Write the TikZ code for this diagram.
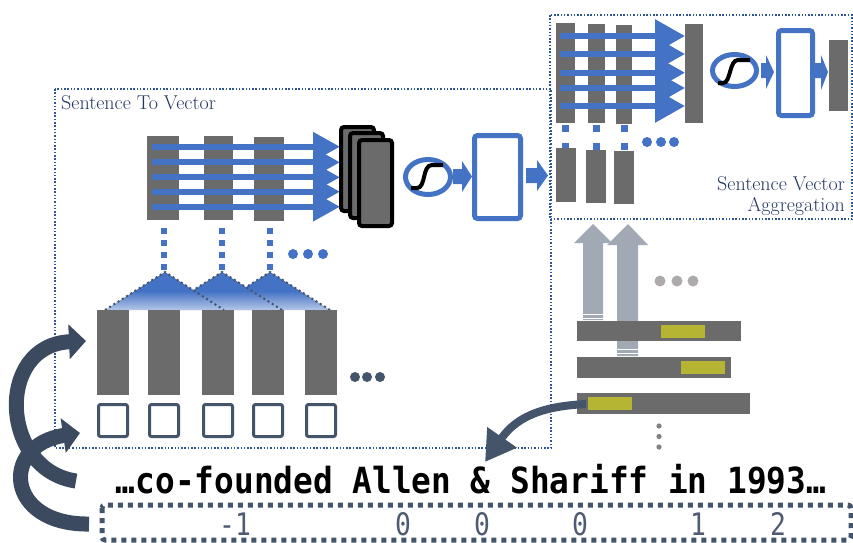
\documentclass[tikz,border=0pt]{standalone}
\usepackage{fontspec}
\newfontfamily\monofont{DejaVu Sans Mono}
\usetikzlibrary{arrows.meta}
\definecolor{cblue}{RGB}{68,114,196}
\definecolor{cgray}{RGB}{107,107,107}
\definecolor{cslate}{RGB}{68,84,106}
\definecolor{cslated}{RGB}{60,74,96}
\definecolor{clight}{RGB}{180,199,231}
\definecolor{carrow}{RGB}{161,169,181}
\definecolor{cdot}{RGB}{174,170,170}
\definecolor{colive}{RGB}{181,181,51}
\definecolor{clabel}{RGB}{36,54,96}
\definecolor{cbox}{RGB}{47,85,151}
\definecolor{cnum}{RGB}{78,91,114}
\tikzset{
  bar/.style={fill=cgray,draw=none},
  dotbox/.style={draw=cbox,line width=1.5pt,dash pattern=on 1.5pt off 1.8pt},
  hblue/.style={draw=cblue,line width=6pt,-{Triangle[length=27pt,width=28pt]}},
  hblueb/.style={draw=cblue,line width=6pt,-{Triangle[length=30pt,width=32pt]}},
  vdot/.style={draw=cblue,line width=6pt,dash pattern=on 6pt off 6pt},
  vdotb/.style={draw=cblue,line width=7pt,dash pattern=on 7pt off 11pt},
  blockarr/.style={fill=cblue,draw=none},
  bluebox/.style={draw=cblue,line width=5pt,rounded corners=3pt,fill=white},
  stackbox/.style={draw=black,line width=4pt,rounded corners=3pt,fill=cgray},
  sig/.style={draw=cblue,line width=5pt,fill=white},
  scurve/.style={draw=black,line width=4pt},
  tri/.style={top color=cblue,bottom color=clight,middle color=cblue},
  triedge/.style={draw=cslate,line width=2pt,dash pattern=on 2pt off 3pt},
  tok/.style={draw=cslate,line width=3pt,rounded corners=2pt,fill=white},
  curv/.style={draw=cslated,line width=15pt,-{Triangle[length=17pt,width=34pt]}},
  curvb/.style={draw=cslate,line width=8pt,-{Triangle[length=30pt,width=34pt]}},
  uparr/.style={fill=carrow,draw=none},
  lbl/.style={text=clabel,font=\fontsize{20}{24}\selectfont,inner sep=0pt},
  numlbl/.style={anchor=base,inner sep=0pt,text depth=0pt,text=cnum,font=\monofont\fontsize{31}{34}\selectfont},
}
\begin{document}
\begin{tikzpicture}[x=1pt,y=-1pt]
\useasboundingbox (0,0) rectangle (853,542);
\fill[white] (0,0) rectangle (853,542);

% ---------- Sentence To Vector box ----------
\draw[dotbox] (55,89) rectangle (551,448);
\node[lbl,anchor=base west] (stvlabel) at (61,109) {Sentence To Vector};

% top bars with arrows
\fill[bar] (147,136) rectangle (179,220);
\fill[bar] (204,136) rectangle (233,220);
\fill[bar] (254,137) rectangle (284,221);
\foreach \yy in {146.7,162.3,177.3,191.7,206.7}{
  \draw[hblue] (152,\yy) -- (340,\yy);
}
% stacked boxes
\draw[stackbox] (341,127) rectangle (374,211);
\draw[stackbox] (350,133) rectangle (383,218);
\draw[stackbox] (359,140) rectangle (392,226);
% sigmoid
\draw[sig] (428,177) ellipse [x radius=22.5, y radius=17.5];
\draw[scurve] (411,188) -- (417,188) .. controls (426,188) and (422,165) .. (432,165) -- (443,165);
% block arrow
\fill[blockarr] (453,169)--(462,169)--(462,161)--(472,176.5)--(462,192)--(462,184)--(453,184)--cycle;
\draw[bluebox] (474.5,135.5) rectangle (520.5,218.5);
\fill[blockarr] (526,168)--(537,168)--(537,160)--(548,175.5)--(537,191)--(537,183)--(526,183)--cycle;

% vertical dotted connectors
\foreach \xx in {164,222,270}{
  \draw[vdot] (\xx,228) -- (\xx,270);
}
\foreach \xx in {293,308,323}{ \fill[cblue] (\xx,254) circle (5); }

% triangles (pooling)
\shade[tri] (270,272) -- (330,310) -- (210,310) -- cycle;
\draw[triedge] (210,310) -- (270,272) -- (330,310);
\shade[tri] (222,272) -- (282,310) -- (162,310) -- cycle;
\draw[triedge] (162,310) -- (222,272) -- (282,310);
\shade[tri] (165,272) -- (224,310) -- (105,310) -- cycle;
\draw[triedge] (105,310) -- (165,272) -- (224,310);

% word bars and tokens
\foreach \xa/\xb in {97/129,148/180,202/234,252/284,305/337}{
  \fill[bar] (\xa,310) rectangle (\xb,395);
  \draw[tok] (\xa+1.5,404.5) rectangle (\xb-1.5,436.5);
}
\foreach \xx in {355,367,380}{ \fill[cslate] (\xx,377) circle (5); }

% ---------- Sentence Vector Aggregation box ----------
\draw[dotbox] (550,15) rectangle (852,219);
\node[lbl,anchor=base east] (svalabel1) at (845,190) {Sentence Vector};
\node[lbl,anchor=base east] (svalabel2) at (845,211) {Aggregation};

\fill[bar] (556,23) rectangle (575,123);
\fill[bar] (588,24) rectangle (605,123);
\fill[bar] (616,25) rectangle (632,124);
\fill[bar] (685,24) rectangle (703,123);
\foreach \yy in {36,54,72.7,88,106}{
  \draw[hblueb] (560,\yy) -- (685,\yy);
}
\foreach \xx in {565,596,624}{
  \draw[vdotb] (\xx,124.5) -- (\xx,149.5);
}
\fill[bar] (556,148) rectangle (576,202);
\fill[bar] (586,150) rectangle (606,203);
\fill[bar] (614,151) rectangle (634,204);
\foreach \xx in {647,661,674}{ \fill[cblue] (\xx,142) circle (5); }

\draw[sig] (734.5,70.5) ellipse [x radius=22, y radius=16];
\draw[scurve] (718,83) -- (723,83) .. controls (731,83) and (729,60) .. (738,60) -- (750,60);
\fill[blockarr] (761,63)--(766,63)--(766,55)--(774,72)--(766,89)--(766,78)--(761,78)--cycle;
\draw[bluebox] (778.5,30.5) rectangle (812.5,115.5);
\fill[blockarr] (815,63)--(821,63)--(821,55)--(828,72)--(821,90)--(821,78)--(815,78)--cycle;
\fill[bar] (829,40) rectangle (848,111);

% ---------- sentences with up arrows ----------
\fill[uparr] (583,320) -- (583,243) -- (574,243) -- (593,224) -- (612,243) -- (603,243) -- (603,320) -- cycle;
\draw[white,line width=1pt] (583,314.5) -- (603,314.5);
\draw[white,line width=1pt] (583,318) -- (603,318);
\fill[uparr] (617,356) -- (617,245) -- (607,245) -- (628,224) -- (648,245) -- (638,245) -- (638,356) -- cycle;
\draw[white,line width=1pt] (617,349.5) -- (638,349.5);
\draw[white,line width=1pt] (617,353) -- (638,353);
\foreach \xx in {660,677,693}{ \fill[cdot] (\xx,281) circle (5.5); }

\fill[bar] (577,321) rectangle (741,341);
\fill[colive] (661,325) rectangle (705,338);
\fill[bar] (577,357) rectangle (731,378);
\fill[colive] (681,361) rectangle (725,374);
\fill[bar] (577,393) rectangle (750,414);
\fill[colive] (588,397) rectangle (632,410);
\foreach \yy in {426,436.5,447}{ \fill[cgray!85] (659,\yy) circle (2.6); }

\coordinate (from) at (586,404);
\coordinate (to) at (485,462);
\draw[curvb] (from) .. controls (550,406) and (519,413) .. (to);

% ---------- left curved arrows ----------
\coordinate (a1s) at (76,481);
\coordinate (a1t) at (86,341);
\coordinate (a2s) at (89,524);
\coordinate (a2t) at (80,433);
\draw[curv] (a1s) .. controls (0,470) and (-5,345) .. (a1t);
\draw[curv] (a2s) .. controls (5,525) and (0,445) .. (a2t);

% ---------- sentence text and labels ----------
\node[anchor=base,inner sep=0pt,font=\monofont\bfseries\fontsize{36}{40}\selectfont] (sent) at (471,493) {\scalebox{0.91}[1]{…co-founded Allen \& Shariff in 1993…}};
\draw[cslate,line width=5pt,dash pattern=on 5pt off 5pt,rounded corners=3pt] (102,505) rectangle (851,540);
\foreach \xx/\lab in {235/-1,403/0,482/0,580/0,698/1,778/2}{
  \node[numlbl] at (\xx,535) {\scalebox{0.85}[1]{\lab}};
}
\end{tikzpicture}
\end{document}
